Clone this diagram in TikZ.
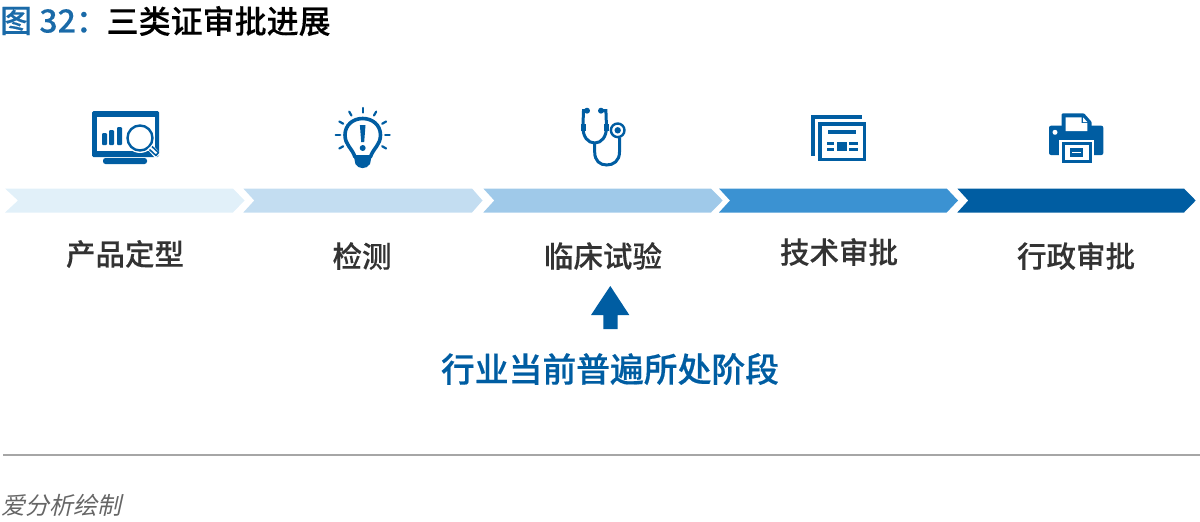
\documentclass[tikz,border=0pt]{standalone}
\usepackage{fontspec}
\usetikzlibrary{calc}
\setmainfont{Noto Sans CJK SC}
\newfontfamily\cjkmed[FakeBold=0.2]{Noto Sans CJK SC Medium}
\newfontfamily\cjkstrong[FakeBold=0.5]{Noto Sans CJK SC Medium}
\definecolor{blueA}{HTML}{005DA2}
\definecolor{blueB}{HTML}{1A6AA8}
\definecolor{chevA}{HTML}{E1F0F9}
\definecolor{chevB}{HTML}{C3DDF1}
\definecolor{chevC}{HTML}{9FC9E9}
\definecolor{chevD}{HTML}{3B92D2}
\definecolor{txt}{HTML}{333333}
\tikzset{
  steplabel/.style={text=txt,font=\cjkmed\fontsize{29.5}{29.5}\selectfont,inner sep=0pt,anchor=center},
}
\begin{document}
\begin{tikzpicture}[x=1pt,y=-1pt]
\useasboundingbox (0,0) rectangle (1200,522);
% title
\node[anchor=west,inner sep=0pt,text=blueB,font=\cjkmed\fontsize{32}{32}\selectfont] (fig) at (0,21) {图 32：};
\node[anchor=west,inner sep=0pt,text=black,font=\cjkmed\fontsize{32}{32}\selectfont] (title) at (106.5,21) {三类证审批进展};
% chevrons
\fill[chevA] (5,188.5) -- (233,188.5) -- (244.5,200.5) -- (233,212.5) -- (5,212.5) -- (18,200.5) -- cycle;
\fill[chevB] (243.3,188.5) -- (472,188.5) -- (482.5,200.5) -- (472,212.5) -- (243.3,212.5) -- (254.3,200.5) -- cycle;
\fill[chevC] (483.3,188.5) -- (711,188.5) -- (722.7,200.5) -- (711,212.5) -- (483.3,212.5) -- (494.3,200.5) -- cycle;
\fill[chevD] (719,188.5) -- (946.7,188.5) -- (958,200.5) -- (946.7,212.5) -- (719,212.5) -- (730,200.5) -- cycle;
\fill[blueA] (957.3,188.5) -- (1184,188.5) -- (1195.7,200.5) -- (1184,212.5) -- (957.3,212.5) -- (968.3,200.5) -- cycle;
% labels
\node[steplabel] (s1) at (125,254) {产品定型};
\node[steplabel] (s2) at (362,256) {检测};
\node[steplabel] (s3) at (603,256) {临床试验};
\node[steplabel] (s4) at (839,252) {技术审批};
\node[steplabel] (s5) at (1076,256) {行政审批};
% up arrow
\fill[blueA] (610.3,286) -- (629.3,315) -- (617.7,315) -- (617.7,329) -- (603.3,329) -- (603.3,315) -- (591,315) -- cycle;
\node[inner sep=0pt,text=blueA,font=\cjkstrong\fontsize{33.8}{33.8}\selectfont] (cur) at (610,369) {行业当前普遍所处阶段};
% rule + source
\coordinate (r1) at (3,455); \coordinate (r2) at (1200,455);
\draw[color=black!35,line width=1.4pt] (r1) -- (r2);
\node[anchor=west,inner sep=0pt,text=black!60,font=\fontsize{24}{24}\selectfont,xslant=0.22] (src) at (3,505) {爱分析绘制};
% icon 1: monitor
\fill[blueA,rounded corners=1.5pt] (92,111) rectangle (159,157);
\fill[white] (97,117) rectangle (155,151);
\fill[blueA,rounded corners=2.5pt] (103,158) rectangle (147,164);
\fill[blueA,rounded corners=1pt] (102,133) rectangle (107,145);
\fill[blueA,rounded corners=1pt] (109,130) rectangle (114,145);
\fill[blueA,rounded corners=1pt] (117,127) rectangle (122,145);
\fill[white] (140,138) circle (15);
\draw[blueA,line width=2.4pt] (140,138) circle (12.5);
\draw[white,line width=7pt] (150,147) -- (158,156);
\draw[blueA,line width=1.6pt,line join=round] (149.5,149.5) -- (156,155.5) -- (158.5,152.5) -- (152,146.5);
% icon 2: bulb
\draw[blueA,line width=3.6pt,line join=round] (355,157) .. controls (352,148) and (345,145) .. (345,135) .. controls (345,125) and (353,118.5) .. (362.7,118.5) .. controls (372.4,118.5) and (380.5,125) .. (380.5,135) .. controls (380.5,145) and (373.4,148) .. (370.4,157) -- cycle;
\fill[blueA] (354,157) -- (371.4,157) -- (370,164) .. controls (367,169.5) and (358.4,169.5) .. (355.4,164) -- cycle;
\fill[blueA] (359.9,125) -- (365.5,125) -- (364.2,142) -- (361.2,142) -- cycle;
\fill[blueA] (362.7,148) circle (3);
\foreach \ang in {0,30,60,90,120,150,180,-30,210}{
  \draw[blueA,line width=2.2pt,line cap=round] ($(362.7,135)+(\ang:-22.5)$) -- ($(362.7,135)+(\ang:-27)$);
}
% icon 3: stethoscope
\draw[blueA,line width=3pt] (587,110.7) -- (583.5,110.7) -- (582.9,127) .. controls (582.9,137) and (588,143) .. (594.7,143) .. controls (601.4,143) and (606.5,137) .. (606.5,127) -- (605.9,110.7) -- (601,110.7);
\draw[blueA,line width=5pt] (583,124) -- (583,131);
\draw[blueA,line width=5pt] (606.4,124) -- (606.4,131);
\fill[blueA] (587,110.7) circle (3);
\fill[blueA] (601,110.7) circle (3);
\draw[blueA,line width=3pt] (594.7,143) -- (594.7,152) .. controls (594.7,161) and (600,165) .. (606.7,165) .. controls (613.4,165) and (619.5,161) .. (619.5,152) -- (619.5,138);
\draw[blueA,line width=2.4pt] (617.7,130.3) circle (6.8);
\fill[blueA] (617.7,130.3) circle (3.2);
% icon 4: document
\fill[blueA] (810.7,115) rectangle (861.7,119);
\fill[blueA] (810.7,115) rectangle (814.7,155.7);
\draw[blueA,line width=3.4pt] (820,124) rectangle (864.6,159.2);
\fill[blueA] (827.7,130) rectangle (856,133.8);
\fill[blueA] (836.7,142.3) rectangle (846.7,150.5);
\fill[blueA] (826.7,142.3) rectangle (834.3,145);
\fill[blueA] (826.7,147.8) rectangle (834.3,150.5);
\fill[blueA] (849.3,142.3) rectangle (857.7,145);
\fill[blueA] (849.3,147.8) rectangle (857.7,150.5);
% icon 5: printer
\fill[blueA,rounded corners=2pt] (1049,125.7) rectangle (1103.3,155);
\fill[blueA,rounded corners=1pt] (1061.7,113.3) -- (1084,113.3) -- (1091.7,122) -- (1091.7,130) -- (1061.7,130) -- cycle;
\fill[white] (1065.7,117.3) -- (1081.5,117.3) -- (1081.5,123) -- (1087.3,123) -- (1087.3,131) -- (1065.7,131) -- cycle;
\fill[white] (1083,117.3) -- (1087.3,122) -- (1083,122) -- cycle;
\fill[white] (1055,132.3) circle (2.5);
\fill[white] (1059,140) rectangle (1094,165);
\fill[blueA] (1061.5,142) rectangle (1091.5,163);
\fill[white] (1064.5,145) rectangle (1088.5,160);
\fill[blueA] (1070,148.3) rectangle (1082.7,156.7);
\fill[white] (1071.5,151.6) rectangle (1081.2,153.2);
\end{tikzpicture}
\end{document}
